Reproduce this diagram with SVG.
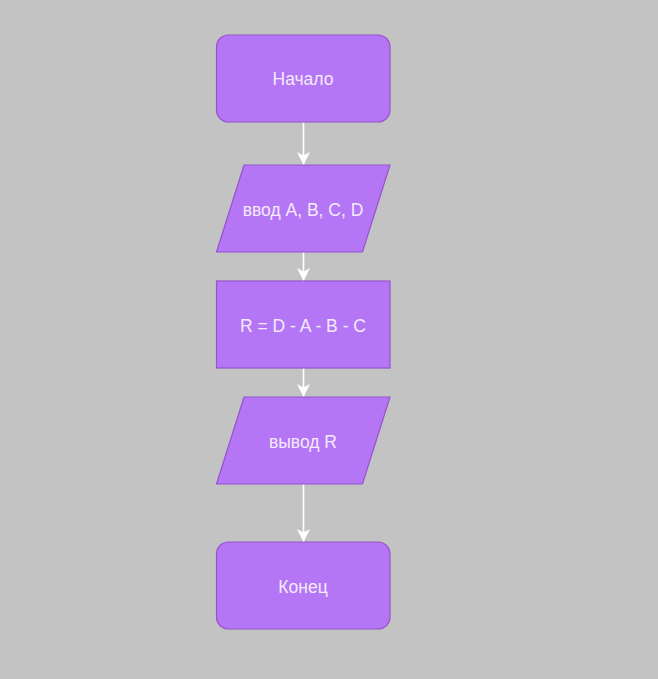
<svg xmlns="http://www.w3.org/2000/svg" width="658" height="679" viewBox="0 0 658 679">
<style>
.n{fill:#b476f5;stroke:#9553cc;stroke-width:1.2}
.t{font-family:"Liberation Sans",Arial,sans-serif;font-size:17.5px;fill:#f3eafc;text-anchor:middle;dominant-baseline:central}
.c{stroke:#ffffff;stroke-width:1.6;fill:none}
</style>
<defs>
<marker id="ah" viewBox="0 0 13 13" refX="13" refY="6.5" markerWidth="13" markerHeight="13" markerUnits="userSpaceOnUse" orient="auto">
<path d="M0,0 L13,6.5 L0,13 L3.5,6.5 Z" fill="#ffffff"/>
</marker>
</defs>
<rect width="658" height="679" fill="#c3c3c3"/>
<g id="connectors">
<line class="c" x1="303.5" y1="122" x2="303.5" y2="165" marker-end="url(#ah)"/>
<line class="c" x1="303.5" y1="252" x2="303.5" y2="281" marker-end="url(#ah)"/>
<line class="c" x1="303.5" y1="368" x2="303.5" y2="397" marker-end="url(#ah)"/>
<line class="c" x1="303.5" y1="484" x2="303.5" y2="542" marker-end="url(#ah)"/>
</g>
<g id="start">
<rect class="n" x="216.5" y="35" width="173.5" height="87" rx="12"/>
<text class="t" x="303" y="79">Начало</text>
</g>
<g id="input">
<polygon class="n" points="244,165 390,165 362.5,252 216.5,252"/>
<text class="t" x="303" y="210">ввод A, B, C, D</text>
</g>
<g id="calc">
<rect class="n" x="216.5" y="281" width="173.5" height="87"/>
<text class="t" x="303" y="326">R = D - A - B - C</text>
</g>
<g id="output">
<polygon class="n" points="244,397 390,397 362.5,484 216.5,484"/>
<text class="t" x="303" y="442">вывод R</text>
</g>
<g id="end">
<rect class="n" x="216.5" y="542" width="173.5" height="87" rx="12"/>
<text class="t" x="303" y="587">Конец</text>
</g>
</svg>
